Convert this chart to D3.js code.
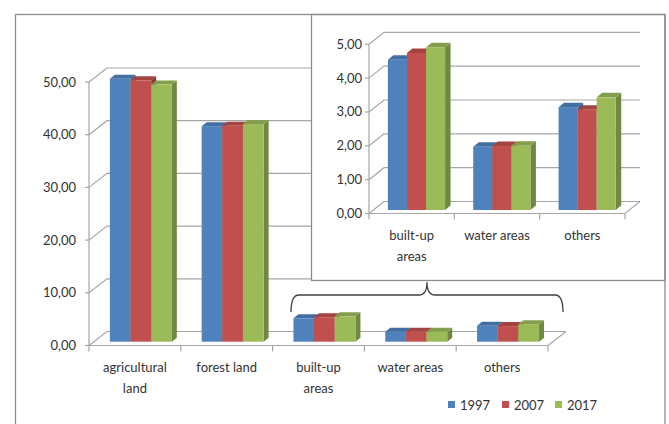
<!DOCTYPE html>
<html>
<head>
<meta charset="utf-8">
<script src="https://cdn.jsdelivr.net/npm/d3@7"></script>
<style>
  html, body { margin: 0; padding: 0; background: #fff; }
  svg { display: block; font-family: Lato, "Open Sans", sans-serif; }
</style>
</head>
<body>
<svg id="chart" width="669" height="424"></svg>
<script>
// Land use shares (%), three survey years
const categories = ["agricultural land", "forest land", "built-up areas", "water areas", "others"];
const categoryLines = [["agricultural", "land"], ["forest land"], ["built-up", "areas"], ["water areas"], ["others"]];
const years = ["1997", "2007", "2017"];
const values1997 = [49.9, 40.9, 4.44, 1.87, 3.04];
const values2007 = [49.6, 41.0, 4.64, 1.89, 2.96];
const values2017 = [48.8, 41.3, 4.81, 1.90, 3.33];
const mainTicks = [0, 10, 20, 30, 40, 50];
const zoomTicks = [0, 1, 2, 3, 4, 5];
const zoomCategories = categories.slice(2);

const seriesValues = [values1997, values2007, values2017];
const colors = ["#4F81BD", "#C0504D", "#9BBB59"];
const gridColor = "#a6a6a6";
const textColor = "#333";
const fmt = v => d3.format(".2f")(v).replace(".", ",");

const svg = d3.select("#chart");

// Draws one pseudo-3D clustered column chart (oblique projection)
function columnChart3D(g, o) {
  const x = d3.scaleBand().domain(o.cats).range([o.x0, o.x1]);
  const y = d3.scaleLinear().domain([0, o.yMax]).range([o.yBase, o.yTop]);
  const [wdx, wdy] = o.wall;
  const [fdx, fdy] = o.barFront;
  const [bdx, bdy] = o.barDepth;
  const sub = d3.scaleBand().domain(years)
    .range([x.bandwidth() * o.groupStart, x.bandwidth() * (o.groupStart + o.groupWidth)]);

  // back wall gridlines and side wall diagonals
  const grid = g.append("g").attr("fill", "none").attr("stroke", gridColor).attr("stroke-width", 1.2);
  grid.selectAll("path.grid").data(o.ticks).join("path")
    .attr("class", "grid")
    .attr("d", t => `M${o.x0},${y(t)}L${o.x0 + wdx},${y(t) + wdy}L${o.x1 + wdx},${y(t) + wdy}`);
  // floor front edge and right edge
  grid.append("path")
    .attr("d", `M${o.x0},${y(0)}L${o.x1},${y(0)}L${o.x1 + wdx},${y(0) + wdy}`);
  // vertical value axis
  grid.append("path").attr("d", `M${o.x0},${y(0)}L${o.x0},${y(o.yMax)}`);
  // value ticks
  grid.selectAll("path.tick").data(o.ticks).join("path")
    .attr("class", "tick")
    .attr("d", t => `M${o.x0 - 4},${y(t)}L${o.x0},${y(t)}`);
  // category ticks
  const bounds = o.cats.map(c => x(c)).concat([o.x1]);
  grid.selectAll("path.ctick").data(bounds).join("path")
    .attr("class", "ctick")
    .attr("d", b => `M${b},${y(0)}L${b},${y(0) + 6}`);

  // value labels
  g.append("g").selectAll("text").data(o.ticks).join("text")
    .attr("x", o.labelRight).attr("y", t => y(t) + 4.5)
    .attr("text-anchor", "end").attr("font-size", 13).attr("fill", textColor)
    .text(fmt);

  // bars, painted left to right so each neighbour hides the previous side face
  const bars = g.append("g");
  o.cats.forEach((c, ci) => {
    years.forEach((yr, si) => {
      const v = o.data[si][ci];
      const xl = x(c) + sub(yr) + fdx;
      const xr = xl + sub.bandwidth();
      const yt = y(v) + fdy;
      const yb = y(0) + fdy;
      const base = d3.color(colors[si]);
      bars.append("path")
        .attr("d", `M${xr},${yt}L${xr + bdx},${yt + bdy}L${xr + bdx},${yb + bdy}L${xr},${yb}Z`)
        .attr("fill", base.darker(0.9).formatHex());
      bars.append("path")
        .attr("d", `M${xl},${yt}L${xl + bdx},${yt + bdy}L${xr + bdx},${yt + bdy}L${xr},${yt}Z`)
        .attr("fill", base.darker(0.45).formatHex());
      bars.append("rect")
        .attr("x", xl).attr("y", yt)
        .attr("width", sub.bandwidth()).attr("height", yb - yt)
        .attr("fill", colors[si]);
    });
  });

  // category labels
  const labels = g.append("g").attr("font-size", 13).attr("fill", textColor).attr("text-anchor", "middle");
  o.cats.forEach((c, ci) => {
    o.lines[ci].forEach((line, li) => {
      labels.append("text")
        .attr("x", x(c) + x.bandwidth() / 2 + o.labelShift)
        .attr("y", o.labelY + li * o.lineGap)
        .text(line);
    });
  });
}

// main chart: all five categories
columnChart3D(svg.append("g"), {
  cats: categories, lines: categoryLines, data: seriesValues,
  x0: 89, x1: 548, yBase: 345.5, yTop: 82, yMax: 50, ticks: mainTicks,
  wall: [18, -14], barFront: [4.8, -3.8], barDepth: [5, -4],
  groupStart: 0.175, groupWidth: 0.675,
  labelRight: 76, labelY: 371.5, lineGap: 21, labelShift: 0
});

// magnified panel for the three small categories
const zoomG = svg.append("g");
zoomG.append("rect")
  .attr("x", 311.5).attr("y", 14.5).attr("width", 353.5).attr("height", 266)
  .attr("fill", "#fff").attr("stroke", "#8c8c8c").attr("stroke-width", 1.3);
columnChart3D(zoomG, {
  cats: zoomCategories, lines: categoryLines.slice(2), data: seriesValues.map(s => s.slice(2)),
  x0: 369, x1: 625, yBase: 213.5, yTop: 44.3, yMax: 5, ticks: zoomTicks,
  wall: [15, -12], barFront: [4.4, -3.5], barDepth: [5.5, -4.5],
  groupStart: 0.17, groupWidth: 0.67,
  labelRight: 362, labelY: 239.5, lineGap: 21.5, labelShift: 0
});

// brace linking the small bars to the magnified panel
svg.append("path")
  .attr("d", "M291,312Q291,295 299,295L419,295Q427,295 427,282Q427,295 435,295L555,295Q563,295 563,312")
  .attr("fill", "none").attr("stroke", "#404040").attr("stroke-width", 1.3);

// legend
const legendX = [448, 502, 555];
const legend = svg.append("g");
years.forEach((yr, i) => {
  legend.append("rect").attr("x", legendX[i]).attr("y", 401).attr("width", 7).attr("height", 7).attr("fill", colors[i]);
  legend.append("text").attr("x", legendX[i] + 12).attr("y", 409.5)
    .attr("font-size", 13).attr("fill", textColor).text(yr);
});

// outer frame
svg.append("rect")
  .attr("x", 15.5).attr("y", 14.5).attr("width", 649.5).attr("height", 430)
  .attr("fill", "none").attr("stroke", "#8c8c8c").attr("stroke-width", 1.3);
</script>
</body>
</html>
